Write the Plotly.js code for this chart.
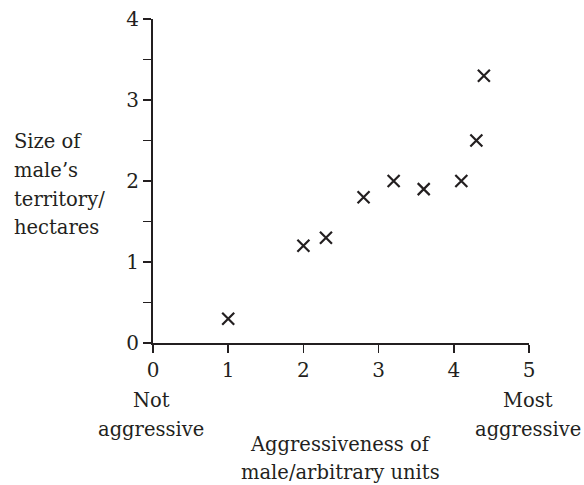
<!DOCTYPE html>
<html>
<head>
<meta charset="utf-8">
<script src="https://cdn.plot.ly/plotly-3.0.1.min.js"></script>
<style>html,body{margin:0;padding:0;background:#fff;}#chart{width:584px;height:485px;}</style>
</head>
<body>
<div id="chart"></div>
<script>
const aggressiveness = [1.0, 2.0, 2.3, 2.8, 3.2, 3.6, 4.1, 4.3, 4.4];
const territorySize = [0.3, 1.2, 1.3, 1.8, 2.0, 1.9, 2.0, 2.5, 3.3];
const xTickVals = [0, 1, 2, 3, 4, 5];
const yTickVals = [0, 1, 2, 3, 4];
const yTitleLines = ["Size of", "male’s", "territory/", "hectares"];
const xTitleLines = ["Aggressiveness of", "male/arbitrary units"];
const leftEndLines = ["Not", "aggressive"];
const rightEndLines = ["Most", "aggressive"];

const ink = '#231f20';
const tickFont = {family: "DejaVu Serif", size: 20, color: ink};
const textFont = {family: "DejaVu Serif", size: 19.5, color: ink};

const trace = {
  x: aggressiveness, y: territorySize, type: 'scatter', mode: 'markers',
  marker: {symbol: 'x-thin', size: 12, line: {width: 2.2, color: ink}, color: ink},
  hoverinfo: 'none', cliponaxis: false
};

// plot area pixel geometry helpers (paper coords)
const W = 584, H = 485, ML = 153, MR = 55, MT = 19, MB = 142;
const PW = W - ML - MR, PH = H - MT - MB;
const px = v => (v - ML) / PW;
const py = v => (H - MB - v) / PH;

function lines(arr, xPix, yPixes, xanchor, align) {
  return arr.map((t, i) => ({
    text: t, xref: 'paper', yref: 'paper', x: px(xPix), y: py(yPixes[i]),
    xanchor: xanchor, yanchor: 'middle', align: align, showarrow: false, font: textFont
  }));
}

const annotations = [].concat(
  lines(yTitleLines, 12, [141, 170, 199, 227], 'left', 'left'),
  lines(leftEndLines, 151, [400, 429], 'center', 'center'),
  lines(rightEndLines, 528, [400, 429], 'center', 'center'),
  lines(xTitleLines, 340, [444, 472], 'center', 'center')
);

const layout = {
  width: W, height: H,
  margin: {l: ML, r: MR, t: MT, b: MB},
  paper_bgcolor: '#fff', plot_bgcolor: '#fff',
  font: textFont, showlegend: false,
  xaxis: {
    range: [0, 5], tickvals: xTickVals, ticktext: xTickVals.map(String),
    ticks: 'outside', ticklen: 8, tickwidth: 1.5, tickcolor: ink,
    showline: true, linecolor: ink, linewidth: 2, showgrid: false, zeroline: false,
    tickfont: tickFont, fixedrange: true
  },
  yaxis: {
    range: [0, 4], tickvals: yTickVals, ticktext: yTickVals.map(String),
    ticks: 'outside', ticklen: 8, tickwidth: 1.5, tickcolor: ink,
    minor: {dtick: 0.5, tick0: 0, ticks: 'outside', ticklen: 8, tickwidth: 1.5, tickcolor: ink, showgrid: false},
    showline: true, linecolor: ink, linewidth: 2, showgrid: false, zeroline: false,
    tickfont: tickFont, fixedrange: true
  },
  annotations: annotations
};

Plotly.newPlot('chart', [trace], layout, {displayModeBar: false, staticPlot: true});
</script>
</body>
</html>
